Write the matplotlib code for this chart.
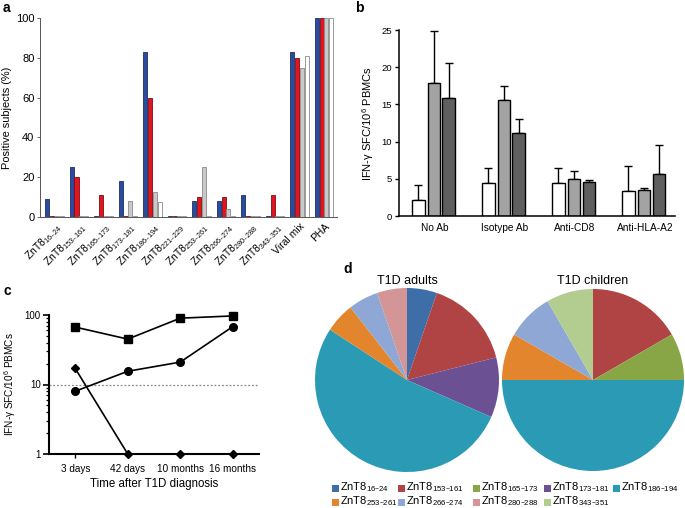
import numpy as np
import matplotlib
matplotlib.use("Agg")
import matplotlib.pyplot as plt
from matplotlib.patches import Rectangle
from matplotlib.ticker import FixedLocator, NullFormatter, LogLocator

plt.rcParams['font.family'] = ['Liberation Sans', 'DejaVu Sans']
plt.rcParams['mathtext.default'] = 'regular'

# ---------------- data ----------------
# panel a
a_categories = ['ZnT8$_{16\u201324}$', 'ZnT8$_{153\u2013161}$', 'ZnT8$_{165\u2013173}$',
                'ZnT8$_{173\u2013181}$', 'ZnT8$_{186\u2013194}$', 'ZnT8$_{221\u2013229}$',
                'ZnT8$_{253\u2013261}$', 'ZnT8$_{266\u2013274}$', 'ZnT8$_{280\u2013288}$',
                'ZnT8$_{343\u2013351}$', 'Viral mix', 'PHA']
a_series1 = [9, 25, 0, 18, 83, 0, 8, 8, 11, 0, 83, 100]
a_series2 = [0, 20, 11, 0, 60, 0, 10, 10, 0, 11, 80, 100]
a_series3 = [0, 0, 0, 8, 12.5, 0, 25, 4, 0, 0, 75, 100]
a_series4 = [0, 0, 0, 0, 7.5, 0, 0, 0, 0, 0, 81, 100]
a_yticks = [0, 20, 40, 60, 80, 100]

# panel b
b_groups = ['No Ab', 'Isotype Ab', 'Anti-CD8', 'Anti-HLA-A2']
b_white = [2.2, 4.5, 4.5, 3.4]
b_white_err = [1.9, 1.9, 1.9, 3.3]
b_light = [17.9, 15.6, 5.0, 3.5]
b_light_err = [6.9, 1.9, 1.0, 0.3]
b_dark = [15.9, 11.2, 4.6, 5.6]
b_dark_err = [4.7, 1.9, 0.2, 3.9]
b_yticks = [0, 5, 10, 15, 20, 25]

# panel c
c_times = ['3 days', '42 days', '10 months', '16 months']
c_squares = [67, 45, 90, 97]
c_circles = [8, 15.5, 21, 68]
c_diamonds = [17, 1, 1, 1]
c_threshold = 10

# panel d
d_epitopes = ['ZnT8$_{16\u201324}$', 'ZnT8$_{153\u2013161}$', 'ZnT8$_{165\u2013173}$',
              'ZnT8$_{173\u2013181}$', 'ZnT8$_{186\u2013194}$', 'ZnT8$_{253\u2013261}$',
              'ZnT8$_{266\u2013274}$', 'ZnT8$_{280\u2013288}$', 'ZnT8$_{343\u2013351}$']
d_adults = [1, 3, 0, 2, 10, 1, 1, 1, 0]
d_children = [0, 2, 1, 0, 6, 1, 1, 0, 1]
d_colors = ['#3d6ea8', '#b04343', '#88a646', '#6b5193', '#2a9ab5',
            '#e2852d', '#8fa7d5', '#d39595', '#b3cc8f']

W, H = 685, 508
fig = plt.figure(figsize=(W / 100, H / 100), dpi=100)


def box(l, t, r, b):
    return [l / W, 1 - b / H, (r - l) / W, (b - t) / H]


# ---------------- panel a ----------------
ax = fig.add_axes(box(40, 18, 337, 217))
x = np.arange(len(a_categories))
bw = 0.165
pitch = 0.2
styles = [('#2b4c9e', '#1a2f66'), ('#e3141f', '#7a0d12'),
          ('#c9c9c9', '#8a8a8a'), ('#ffffff', '#8a8a8a')]
for i, vals in enumerate([a_series1, a_series2, a_series3, a_series4]):
    v = np.maximum(np.array(vals, float), 0.4)
    ax.bar(x + (i - 1.5) * pitch, v, bw, color=styles[i][0],
           edgecolor=styles[i][1], linewidth=0.6)
ax.set_xlim(-0.59, 11.53)
ax.set_ylim(0, 100)
ax.set_yticks(a_yticks)
ax.tick_params(axis='y', labelsize=8, length=2, width=0.6, color='#555555', pad=2)
ax.set_xticks(x)
ax.set_xticklabels(a_categories, rotation=45, ha='right', rotation_mode='anchor',
                   fontsize=7.5)
ax.tick_params(axis='x', length=0, pad=3)
ax.set_ylabel('Positive subjects (%)', fontsize=7.9, labelpad=3)
for s in ['top', 'right']:
    ax.spines[s].set_visible(False)
for s in ['left', 'bottom']:
    ax.spines[s].set_color('#555555')
    ax.spines[s].set_linewidth(0.7)

# ---------------- panel b ----------------
bx = fig.add_axes(box(399, 30, 675, 216))
xb = np.arange(len(b_groups))
bbw = 0.18
offs = [-0.235, -0.01, 0.2]
for vals, errs, col, o in [(b_white, b_white_err, '#ffffff', offs[0]),
                           (b_light, b_light_err, '#a3a3a3', offs[1]),
                           (b_dark, b_dark_err, '#5f5f5f', offs[2])]:
    bx.bar(xb + o, vals, bbw, color=col, edgecolor='black', linewidth=1.0, zorder=2)
    bx.errorbar(xb + o, vals, yerr=[np.zeros(len(vals)), errs], fmt='none',
                ecolor='black', elinewidth=1.0, capsize=3.2, capthick=1.0, zorder=1)
bx.set_xlim(-0.51, 3.43)
bx.set_ylim(0, 25)
bx.set_yticks(b_yticks)
bx.set_xticks(xb)
bx.set_xticklabels(b_groups, fontsize=7.3)
bx.tick_params(axis='x', length=0, pad=5)
bx.tick_params(axis='y', labelsize=6.8, length=3, width=1.0, pad=2)
bx.set_ylabel('IFN-\u03b3 SFC/10$^6$ PBMCs', fontsize=8, labelpad=4)
for s in ['top', 'right']:
    bx.spines[s].set_visible(False)
for s in ['left', 'bottom']:
    bx.spines[s].set_linewidth(1.1)

# ---------------- panel c ----------------
cx = fig.add_axes(box(49, 315, 259, 454))
xc = np.arange(len(c_times))
cx.plot(xc, c_squares, color='black', lw=1.2, marker='s', ms=5.5, clip_on=False, zorder=3)
cx.plot(xc, c_circles, color='black', lw=1.2, marker='o', ms=5.5, clip_on=False, zorder=3)
cx.plot(xc, c_diamonds, color='black', lw=1.2, marker='D', ms=4.5, clip_on=False, zorder=3)
cx.axhline(c_threshold, color='#888888', lw=0.9, ls=(0, (1.5, 1.5)), zorder=1)
cx.set_yscale('log')
cx.set_ylim(1, 100)
cx.set_xlim(-0.5, 3.5)
cx.yaxis.set_major_locator(FixedLocator([1, 10, 100]))
cx.set_yticklabels(['1', '10', '100'])
cx.yaxis.set_minor_locator(LogLocator(base=10, subs=np.arange(2, 10)))
cx.yaxis.set_minor_formatter(NullFormatter())
cx.set_xticks(xc)
cx.set_xticklabels(c_times, fontsize=7.2)
cx.tick_params(axis='x', length=3, width=1.0, pad=4)
cx.tick_params(axis='y', which='major', labelsize=7, length=4, width=1.2, pad=2)
cx.tick_params(axis='y', which='minor', length=2.5, width=0.9)
cx.set_ylabel('IFN-\u03b3 SFC/10$^6$ PBMCs', fontsize=7.2, labelpad=5)
cx.set_xlabel('Time after T1D diagnosis', fontsize=8.3, labelpad=3)
for s in ['top', 'right']:
    cx.spines[s].set_visible(False)
for s in ['left', 'bottom']:
    cx.spines[s].set_linewidth(1.5)

# ---------------- panel d ----------------
for data, (cxp, cyp, r), title in [(d_adults, (407, 380, 92), 'T1D adults'),
                                   (d_children, (593, 380, 91), 'T1D children')]:
    pax = fig.add_axes(box(cxp - r, cyp - r, cxp + r, cyp + r))
    vals = [v for v in data if v > 0]
    cols = [c for v, c in zip(data, d_colors) if v > 0]
    pax.pie(vals, colors=cols, startangle=90, counterclock=False, radius=1.0,
            wedgeprops=dict(linewidth=0))
    pax.set_xlim(-1, 1)
    pax.set_ylim(-1, 1)
    pax.set_aspect('auto')
    pax.axis('off')
    fig.text(cxp / W, 1 - 281 / H, title, fontsize=9, ha='center', va='center')

# legend for d
leg_x = [332, 398, 473, 544, 613]
leg_y = [488, 502]
for i, (lab, col) in enumerate(zip(d_epitopes, d_colors)):
    lx = leg_x[i % 5]
    ly = leg_y[i // 5]
    fig.patches.append(Rectangle((lx / W, 1 - (ly + 3.5) / H), 7 / W, 7 / H,
                                 transform=fig.transFigure, facecolor=col,
                                 edgecolor='none'))
    fig.text((lx + 8) / W, 1 - (ly - 0.5) / H, lab, fontsize=8, ha='left', va='center')

# panel labels
fig.text(3 / W, 1 - 1 / H, 'a', fontsize=10, fontweight='bold', va='top')
fig.text(355 / W, 1 - 1 / H, 'b', fontsize=10, fontweight='bold', va='top')
fig.text(3 / W, 1 - 284 / H, 'c', fontsize=10, fontweight='bold', va='top')
fig.text(343 / W, 1 - 262 / H, 'd', fontsize=10, fontweight='bold', va='top')

fig.savefig('out.png', dpi=100)
